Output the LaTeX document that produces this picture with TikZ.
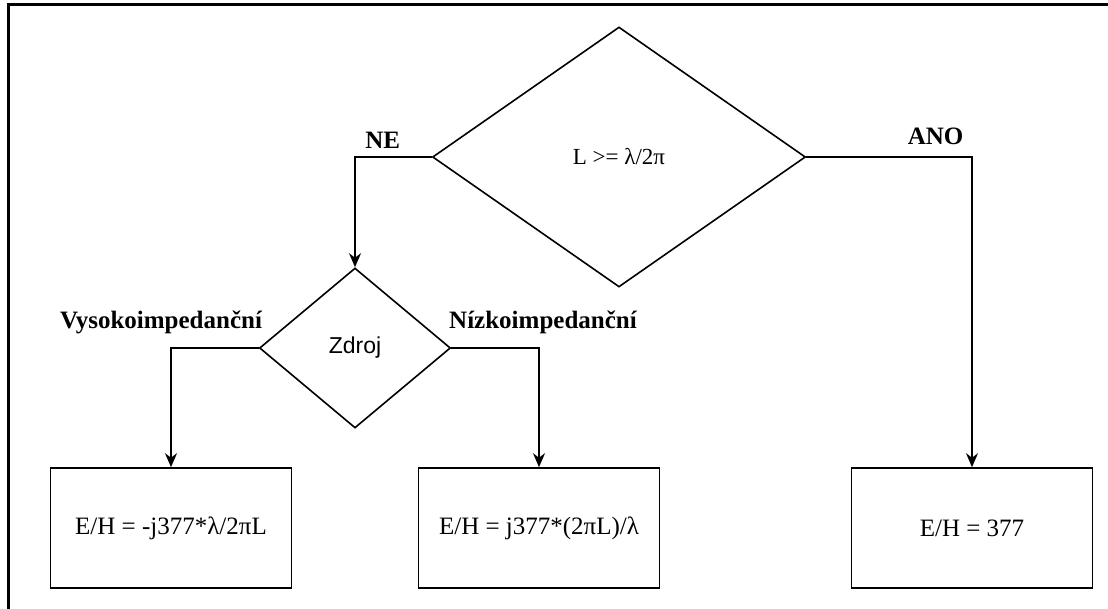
\documentclass[tikz,border=0pt]{standalone}
\usepackage{fontspec}
\setmainfont{Liberation Serif}
\setsansfont{Liberation Sans}
\usetikzlibrary{shapes.geometric,arrows.meta,positioning}

\begin{document}
\begin{tikzpicture}[x=1pt, y=-1pt, line width=1.6pt, >={Stealth[length=14pt,width=12pt]},
    font=\fontsize{25}{30}\selectfont]
   \useasboundingbox (0,0) rectangle (1108,609);
   \draw[line width=3pt] (8,609) -- (8,5) -- (1108,5);
   \begin{scope}[every node/.style={diamond,draw,inner sep=0pt}]
    \node (d1) [minimum width=373pt, minimum height=260pt,
                font=\fontsize{23}{28}\selectfont] at (619,157) {L >= λ/2π};
    \node (d2) [minimum width=191pt, minimum height=160pt,
                font=\sffamily\fontsize{23}{28}\selectfont] at (355,348) {Zdroj};
   \end{scope}
   \begin{scope}[every node/.style={rectangle,draw,minimum width=241pt,minimum height=120pt}]
    \node (b1) at (171,528) {E/H = -j377*λ/2πL};
    \node (b2) at (539,528) {E/H = j377*(2πL)/λ};
    \node (b3) at (972,528) {E/H = 377};
   \end{scope}
   \begin{scope}[->, every node/.style={font=\bfseries\fontsize{25}{30}\selectfont}]
    \draw (d1.west) -| node[pos=0.32, above=4pt] {NE} (d2.north);
    \draw (d1.east) -| node[pos=0.39, above=8pt] {ANO} (b3.north);
    \draw (d2.west) -| node[pos=0.5, above=10pt, xshift=-10pt] {Vysokoimpedanční} (b1.north);
    \draw (d2.east) -| node[pos=0.5, above=10pt, xshift=4pt] {Nízkoimpedanční} (b2.north);
   \end{scope}
\end{tikzpicture}
\end{document}
